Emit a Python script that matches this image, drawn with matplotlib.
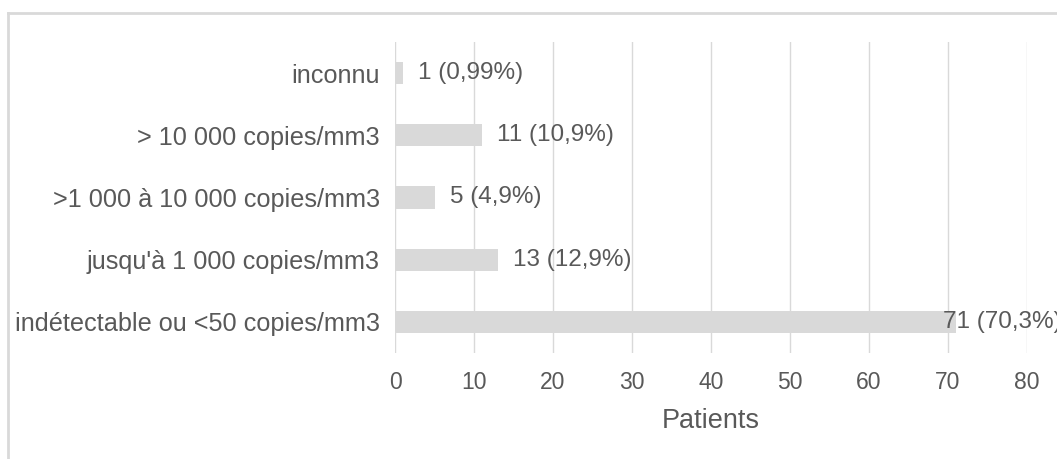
import matplotlib.pyplot as plt
from matplotlib.lines import Line2D

categories = [
    "indétectable ou <50 copies/mm3",
    "jusqu'à 1 000 copies/mm3",
    ">1 000 à 10 000 copies/mm3",
    "> 10 000 copies/mm3",
    "inconnu",
]
patients = [71, 13, 5, 11, 1]
labels = ["71 (70,3%)", "13 (12,9%)", "5 (4,9%)", "11 (10,9%)", "1 (0,99%)"]
xticks = [0, 10, 20, 30, 40, 50, 60, 70, 80]

plt.rcParams['font.family'] = ['Liberation Sans', 'DejaVu Sans']
txt = "#595959"
light = "#d9d9d9"

fig = plt.figure(figsize=(10.57, 4.59), dpi=100)
ax = fig.add_axes([395 / 1057, 1 - 353 / 459, 632 / 1057, 311 / 459])

ax.barh(range(len(categories)), patients, height=0.36, color=light, zorder=2)
ax.set_yticks(range(len(categories)))
ax.set_yticklabels(categories, fontsize=18.2, color=txt)
ax.set_xticks(xticks)
ax.set_xticklabels([str(t) for t in xticks], fontsize=16.5, color=txt)
ax.set_xlim(0, 80)
ax.set_ylim(-0.5, len(categories) - 0.5)
ax.tick_params(axis='both', length=0)
ax.tick_params(axis='y', pad=11)
ax.tick_params(axis='x', pad=13)
ax.grid(axis='x', color=light, linewidth=1, zorder=0)
for s in ax.spines.values():
    s.set_visible(False)
ax.set_xlabel("Patients", fontsize=19.5, color=txt, labelpad=10)

top = max(patients)
for i, (v, lab) in enumerate(zip(patients, labels)):
    off = -9 if v == top else 11
    ax.annotate(lab, (v, i), xytext=(off, 0), textcoords='offset points',
                va='center', ha='left', fontsize=17.5, color=txt,
                annotation_clip=False, zorder=3)

# outer frame
fig.add_artist(Line2D([8 / 1057, 8 / 1057], [0, 1 - 13 / 459], color=light, lw=2,
                      transform=fig.transFigure))
fig.add_artist(Line2D([8 / 1057, 1], [1 - 13 / 459, 1 - 13 / 459], color=light, lw=2,
                      transform=fig.transFigure))

fig.savefig("out.png", dpi=100)
